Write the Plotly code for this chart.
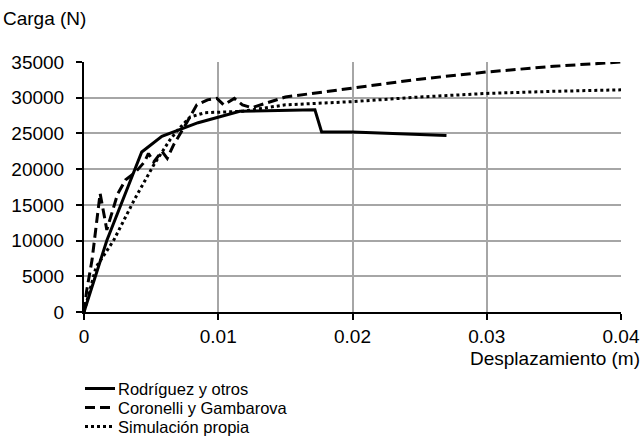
import plotly.graph_objects as go

# Data
rod_x = [0, 0.0017, 0.0043, 0.0058, 0.0085, 0.0116, 0.0172, 0.0177, 0.020, 0.027]
rod_y = [0, 10000, 22400, 24600, 26500, 28100, 28300, 25200, 25200, 24700]

cor_x = [0, 0.0002, 0.0006, 0.0012, 0.0017, 0.0025, 0.0031, 0.0038, 0.0045, 0.0048,
         0.0052, 0.0058, 0.0062, 0.0067, 0.0075, 0.0084, 0.0092, 0.0099, 0.0104, 0.0112,
         0.0118, 0.0125, 0.015, 0.020, 0.025, 0.030, 0.035, 0.040]
cor_y = [0, 3000, 7300, 16600, 11500, 16500, 18500, 19500, 21000, 22200,
         21000, 22500, 21500, 23500, 26000, 29000, 29700, 29900, 29000, 29900,
         29000, 28600, 30100, 31300, 32600, 33600, 34400, 35000]

sim_x = [0, 0.0009, 0.0022, 0.0038, 0.0052, 0.0064, 0.0070, 0.0079, 0.0090, 0.0118,
         0.015, 0.020, 0.025, 0.030, 0.035, 0.040]
sim_y = [0, 6300, 10000, 15900, 20600, 24100, 25500, 27300, 27900, 28100,
         29000, 29450, 30100, 30600, 30900, 31100]

names = ["Rodríguez y otros", "Coronelli y Gambarova", "Simulación propia"]
dashes = ["solid", "10px,5px", "3px,3px"]
x_ticks = [0, 0.01, 0.02, 0.03, 0.04]
x_ticktext = ["0", "0.01", "0.02", "0.03", "0.04"]
y_ticks = [0, 5000, 10000, 15000, 20000, 25000, 30000, 35000]

FONT = "Liberation Sans, Arial, sans-serif"

fig = go.Figure()
for xs, ys, nm, ds in zip([rod_x, cor_x, sim_x], [rod_y, cor_y, sim_y], names, dashes):
    fig.add_trace(go.Scatter(x=xs, y=ys, mode="lines", name=nm, showlegend=False,
                             line=dict(color="black", width=3, dash=ds)))

W, H = 643, 448
L, R, T, B = 84, 22, 62, 136
pw, ph = W - L - R, H - T - B

def px(x):
    return (x - L) / pw

def py(y):
    return (H - B - y) / ph

# manual legend
leg_y = [388.5, 407.5, 426.5]
for nm, ds, yy in zip(names, dashes, leg_y):
    fig.add_shape(type="line", xref="paper", yref="paper", x0=px(85), x1=px(115),
                  y0=py(yy), y1=py(yy), line=dict(color="black", width=3, dash=ds))
    fig.add_annotation(text=nm, xref="paper", yref="paper", x=px(117), y=py(yy),
                       xanchor="left", yanchor="middle", showarrow=False,
                       borderpad=0,
                       font=dict(size=16.5, color="black", family=FONT))

fig.add_annotation(text="Carga (N)", xref="paper", yref="paper", x=px(1), y=py(18),
                   xanchor="left", yanchor="middle", showarrow=False,
                   font=dict(size=19, color="black", family=FONT))
fig.add_annotation(text="Desplazamiento (m)", xref="paper", yref="paper", x=px(642), y=py(358),
                   xanchor="right", yanchor="middle", showarrow=False,
                   font=dict(size=19, color="black", family=FONT))

fig.update_layout(
    width=W, height=H,
    margin=dict(l=L, r=R, t=T, b=B, autoexpand=False),
    paper_bgcolor="white", plot_bgcolor="white",
    font=dict(family=FONT, size=19, color="black"),
    showlegend=False,
)
fig.update_xaxes(range=[0, 0.04], tickvals=x_ticks, ticktext=x_ticktext,
                 showgrid=True, gridcolor="#a6a6a6", gridwidth=1.5,
                 showline=True, linecolor="black", linewidth=2,
                 ticks="outside", ticklen=6, tickcolor="black", tickwidth=1.5,
                 zeroline=False, tickfont=dict(size=19), automargin=False)
fig.update_yaxes(range=[0, 35000], tickvals=y_ticks, tickformat="d",
                 showgrid=True, gridcolor="#a6a6a6", gridwidth=1.5,
                 showline=True, linecolor="black", linewidth=2,
                 ticks="outside", ticklen=6, tickcolor="black", tickwidth=1.5,
                 zeroline=False, tickfont=dict(size=19), ticklabelstandoff=8,
                 automargin=False)

fig.write_html("out.html", config={"displayModeBar": False},
               post_script="document.body.style.margin='0';document.body.style.padding='0';")
